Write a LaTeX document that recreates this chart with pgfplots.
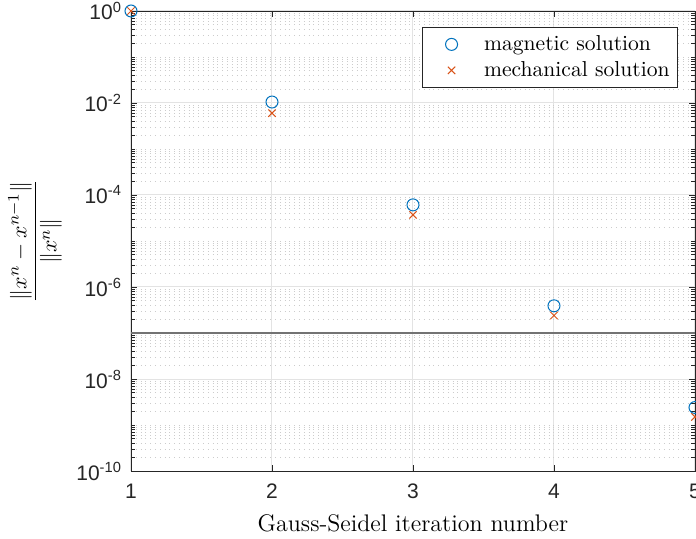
\documentclass[border=0pt]{standalone}
\usepackage{pgfplots}
\pgfplotsset{compat=1.18}
\usepackage{fontspec}
\newfontfamily\arial{Liberation Sans}
\definecolor{mblue}{rgb}{0,0.447,0.741}
\definecolor{mred}{rgb}{0.850,0.325,0.098}
\definecolor{axc}{rgb}{0.15,0.15,0.15}
\begin{document}
\begin{tikzpicture}
\begin{axis}[
  at={(0,0)}, anchor=south west,
  scale only axis, width=282pt, height=230pt,
  ymode=log, xmin=1, xmax=5, ymin=1e-10, ymax=1,
  clip=false,
  axis line style={axc, line width=0.4pt},
  xtick={1,2,3,4,5}, xticklabels={1,2,3,4,5},
  ytick={1e-10,1e-8,1e-6,1e-4,1e-2,1},
  yticklabels={10\textsuperscript{-10},10\textsuperscript{-8},10\textsuperscript{-6},10\textsuperscript{-4},10\textsuperscript{-2},10\textsuperscript{0}},
  minor ytick={2e-10,3e-10,4e-10,5e-10,6e-10,7e-10,8e-10,9e-10,1e-9,
    2e-9,3e-9,4e-9,5e-9,6e-9,7e-9,8e-9,9e-9,
    2e-8,3e-8,4e-8,5e-8,6e-8,7e-8,8e-8,9e-8,1e-7,
    2e-7,3e-7,4e-7,5e-7,6e-7,7e-7,8e-7,9e-7,
    2e-6,3e-6,4e-6,5e-6,6e-6,7e-6,8e-6,9e-6,1e-5,
    2e-5,3e-5,4e-5,5e-5,6e-5,7e-5,8e-5,9e-5,
    2e-4,3e-4,4e-4,5e-4,6e-4,7e-4,8e-4,9e-4,1e-3,
    2e-3,3e-3,4e-3,5e-3,6e-3,7e-3,8e-3,9e-3,
    2e-2,3e-2,4e-2,5e-2,6e-2,7e-2,8e-2,9e-2,1e-1,
    2e-1,3e-1,4e-1,5e-1,6e-1,7e-1,8e-1,9e-1},
  tick label style={font=\arial\fontsize{10.5}{12}\selectfont, text=axc},
  xticklabel style={yshift=-3pt},
  yticklabel style={xshift=-1pt},
  tick style={axc, line width=0.4pt},
  major tick length=3pt, minor tick length=1.8pt,
  tick align=inside,
  xmajorgrids, ymajorgrids, yminorgrids,
  major grid style={gray!22, line width=0.5pt},
  minor grid style={gray!40, dotted, line width=0.4pt},
  xlabel={Gauss-Seidel iteration number},
  ylabel={$\displaystyle\frac{\|x^n-x^{n-1}\|}{\|x^n\|}$},
  every axis x label/.style={at={(axis description cs:0.5,0)}, yshift=-26pt, anchor=center, font=\fontsize{12}{14}\selectfont},
  every axis y label/.style={at={(axis description cs:0,0.5)}, xshift=-48pt, rotate=90, anchor=center, font=\fontsize{11}{13}\selectfont},
  legend style={at={(axis description cs:1,1)}, anchor=north east, xshift=-8.5pt, yshift=-8pt,
    draw=axc, fill=white, line width=0.4pt, font=\fontsize{10.8}{13}\selectfont,
    cells={anchor=west}, row sep=0pt, inner xsep=2pt, inner ysep=2pt},
  legend image code/.code={\draw[#1] plot coordinates {(12.5pt,0pt)}; \path (0pt,0pt) (26.5pt,0pt);},
]
\addplot[gray!90!black, line width=0.65pt, forget plot] coordinates {(1,1e-7) (5,1e-7)};
\addplot[only marks, mark=o, mark size=3pt, mblue, line width=0.5pt] coordinates {
 (1,1) (2,1.05e-2) (3,6.1e-5) (4,3.9e-7) (5,2.4e-9)};
\addlegendentry{magnetic solution}
\addplot[only marks, mark=x, mark size=2.6pt, mred, line width=0.5pt] coordinates {
 (1,1) (2,6.0e-3) (3,3.7e-5) (4,2.4e-7) (5,1.5e-9)};
\addlegendentry{mechanical solution}
\end{axis}
\pgfresetboundingbox
\useasboundingbox (-65.5pt,-34pt) rectangle (282.5pt,235.5pt);
\end{tikzpicture}
\end{document}
